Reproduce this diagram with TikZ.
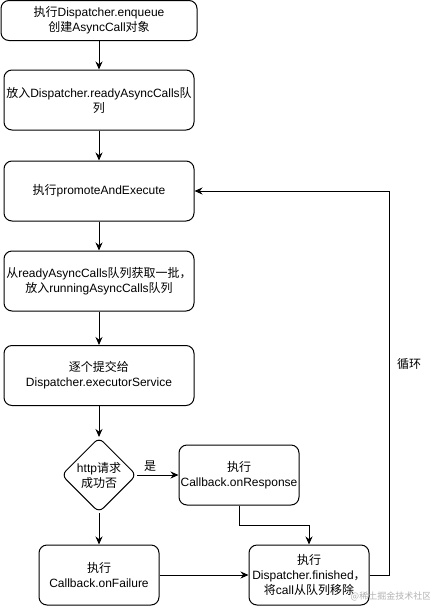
\documentclass[tikz,border=0pt]{standalone}
\usepackage{fontspec}
\setmainfont{Liberation Sans}
\newfontfamily\cjk{Noto Sans CJK SC}
\newcommand{\zh}[1]{{\cjk #1}}
\usetikzlibrary{positioning,shapes.geometric,arrows.meta}

\begin{document}
\begin{tikzpicture}[x=1pt,y=1pt,
    every node/.style={font=\fontsize{12}{15}\selectfont},
    stepbox/.style={draw, line width=1pt, rounded corners=8pt, align=center,
        minimum width=190pt, minimum height=60pt, inner sep=1pt},
    smallbox/.style={stepbox, minimum width=120pt},
    decision/.style={draw, line width=1pt, diamond, rounded corners=6pt, align=center,
        minimum width=75pt, minimum height=75pt, inner sep=0pt, aspect=1},
    flow/.style={line width=1pt, -{Stealth[length=8pt,width=7pt]}},
    lbl/.style={inner sep=1pt}]
    \useasboundingbox (0,0) rectangle (430,-606);

    % main column
    \node[stepbox, minimum width=196pt, minimum height=40pt] (enqueue) at (99,-20.5)
        {\zh{执行}Dispatcher.enqueue\\\zh{创建}AsyncCall\zh{对象}};
    \node[stepbox] (ready) at (99,-100)
        {\zh{放入}Dispatcher.readyAsyncCalls\zh{队}\\\zh{列}};
    \node[stepbox] (promote) at (99,-191) {\zh{执行}promoteAndExecute};
    \node[stepbox] (fetch) at (99,-281)
        {\zh{从}readyAsyncCalls\zh{队列获取一批，}\\\zh{放入}runningAsyncCalls\zh{队列}};
    \node[stepbox] (submit) at (99,-375.5)
        {\zh{逐个提交给}\\Dispatcher.executorService};
    \node[decision] (check) at (99,-475) {http\zh{请求}\\\zh{成功否}};

    % callbacks
    \node[smallbox] (response) at (239,-475) {\zh{执行}\\Callback.onResponse};
    \node[smallbox] (failure) at (99,-575) {\zh{执行}\\Callback.onFailure};
    \node[smallbox] (finished) at (309,-575)
        {\zh{执行}\\Dispatcher.finished\zh{，}\\\zh{将}call\zh{从队列移除}};

    % connectors
    \draw[flow] (enqueue) -- (ready);
    \draw[flow] (ready) -- (promote);
    \draw[flow] (promote) -- (fetch);
    \draw[flow] (fetch) -- (submit);
    \draw[flow] (submit) -- (check);
    \draw[flow] (check) -- (response);
    \node[lbl] (yes) at (150,-466) {\zh{是}};
    \draw[flow] (check) -- (failure);
    \draw[flow] (response.south) -- ++(0,-20) -| (finished.north);
    \draw[flow] (failure) -- (finished);
    \draw[flow] (finished.east) -- ++(20,0) coordinate (loopturn) |- (promote.east);
    \node[lbl, anchor=west] (loop) at (396,-364) {\zh{循环}};

    % watermark
    \node[lbl, text=black!30, font=\fontsize{9}{10}\selectfont] (mark) at (391,-596) {\zh{@稀土掘金技术社区}};
\end{tikzpicture}
\end{document}
